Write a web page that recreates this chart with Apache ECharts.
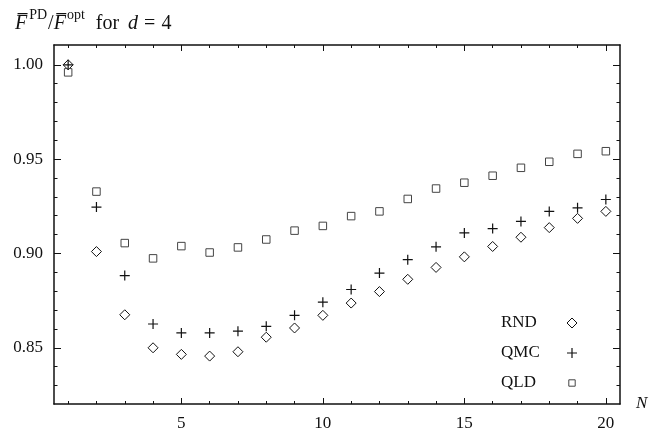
<!DOCTYPE html>
<html><head><meta charset="utf-8">
<script src="https://cdn.jsdelivr.net/npm/echarts@6/dist/echarts.min.js"></script>
<style>html,body{margin:0;padding:0;background:#fff}#c{width:664px;height:432px}</style>
</head><body><div id="c"></div>
<script>
const N = [1,2,3,4,5,6,7,8,9,10,11,12,13,14,15,16,17,18,19,20];
const rnd = [1.000,0.901,0.8675,0.850,0.8465,0.8456,0.8479,0.8556,0.8605,0.8672,0.8737,0.8798,0.8863,0.8926,0.8982,0.9037,0.9086,0.9137,0.9186,0.9223];
const qmc = [1.000,0.9246,0.8883,0.8626,0.8579,0.8579,0.8588,0.8614,0.8672,0.8742,0.8809,0.8896,0.8967,0.9035,0.9109,0.9132,0.9170,0.9223,0.9242,0.9286];
const qld = [0.996,0.9328,0.9055,0.8974,0.9039,0.9005,0.9032,0.9074,0.9121,0.9146,0.9198,0.9223,0.9289,0.9344,0.9375,0.9412,0.9454,0.9486,0.9528,0.9542];
const seriesNames = ['RND','QMC','QLD'];
const xMajorTicks = [5,10,15,20];
const xMinorTicks = [1,2,3,4,5,6,7,8,9,10,11,12,13,14,15,16,17,18,19,20];
const yMajorTicks = [0.85,0.90,0.95,1.00];
const yMinorTicks = [0.83,0.84,0.85,0.86,0.87,0.88,0.89,0.90,0.91,0.92,0.93,0.94,0.95,0.96,0.97,0.98,0.99,1.00];

const FONT = '"Liberation Serif", "DejaVu Serif", serif';
const XMIN = 0.5, XMAX = 20.5, YMIN = 0.8202, YMAX = 1.0105;
const lineCol = '#111';

function xAx(pos, ticks, len, showLine, showLabel, extra) {
  return Object.assign({
    type: 'value', position: pos, min: XMIN, max: XMAX, gridIndex: 0,
    axisLine: {show: showLine, onZero: false, lineStyle: {color: lineCol, width: 1.5}},
    axisTick: {show: true, inside: true, length: len, customValues: ticks, lineStyle: {color: lineCol, width: 1}},
    axisLabel: {show: showLabel, customValues: xMajorTicks, color: '#111', fontFamily: FONT, fontSize: 17, margin: 11},
    splitLine: {show: false}
  }, extra || {});
}
function yAx(pos, ticks, len, showLine, showLabel) {
  return {
    type: 'value', position: pos, min: YMIN, max: YMAX, gridIndex: 0,
    axisLine: {show: showLine, onZero: false, lineStyle: {color: lineCol, width: 1.5}},
    axisTick: {show: true, inside: true, length: len, customValues: ticks, lineStyle: {color: lineCol, width: 1}},
    axisLabel: {show: showLabel, customValues: yMajorTicks, color: '#111', fontFamily: FONT, fontSize: 17, margin: 11,
      formatter: v => v.toFixed(2)},
    splitLine: {show: false}
  };
}

const plusPath = 'path://M0,5L10,5M5,0L5,10';
const smallSquarePath = 'path://M0,0M10,10M1.8,1.8L8.2,1.8L8.2,8.2L1.8,8.2Z';
const styles = {
  RND: {symbol: 'diamond', legendIcon: 'diamond', size: [10, 10], border: '#111', bw: 1},
  QMC: {symbol: plusPath, legendIcon: plusPath, size: [10, 10], border: '#111', bw: 1.2},
  QLD: {symbol: 'rect', legendIcon: smallSquarePath, size: [7.5, 7.5], border: '#444', bw: 1}
};
const values = {RND: rnd, QMC: qmc, QLD: qld};

const chart = echarts.init(document.getElementById('c'), null, {renderer: 'canvas'});
const base = {fontFamily: FONT, color: '#111', lineHeight: 26, verticalAlign: 'bottom', fontWeight: 'normal'};
chart.setOption({
  animation: false,
  backgroundColor: '#fff',
  title: {
    left: 10, top: 3,
    text: '{f|F\u0305}{s|PD}{r|/}{f|F\u0305}{s2|opt}{sp| }{r|for}{sp| }{f|d}{eq|=}{r|4}',
    textStyle: {
      fontWeight: 'normal',
      rich: {
        f: Object.assign({}, base, {fontSize: 20, fontStyle: 'italic'}),
        r: Object.assign({}, base, {fontSize: 20}),
        eq: Object.assign({}, base, {fontSize: 20, padding: [0, 6, 0, 6]}),
        sp: Object.assign({}, base, {fontSize: 20, padding: [0, 2, 0, 2]}),
        s: {fontFamily: FONT, fontSize: 14, color: '#111', lineHeight: 14, verticalAlign: 'top', padding: [0, 1, 0, 2], fontWeight: 'normal'},
        s2: {fontFamily: FONT, fontSize: 14, color: '#111', lineHeight: 14, verticalAlign: 'top', padding: [0, 2, 0, 1], fontWeight: 'normal'}
      }
    }
  },
  grid: {left: 54, top: 45, right: 44, bottom: 25.3, containLabel: false},
  xAxis: [
    xAx('bottom', xMinorTicks, 3, true, true, {
      name: 'N', nameLocation: 'end', nameGap: 16,
      nameTextStyle: {fontFamily: FONT, fontSize: 17, fontStyle: 'italic', color: '#111', align: 'left', verticalAlign: 'middle', padding: [36, 0, 0, 0]}
    }),
    xAx('bottom', xMajorTicks, 6, false, false),
    xAx('top', xMinorTicks, 3, true, false),
    xAx('top', xMajorTicks, 6, false, false)
  ],
  yAxis: [
    yAx('left', yMinorTicks, 3.5, true, true),
    yAx('left', yMajorTicks, 7, false, false),
    yAx('right', yMinorTicks, 3.5, true, false),
    yAx('right', yMajorTicks, 7, false, false)
  ],
  legend: {
    orient: 'vertical', left: 496, top: 309, align: 'right',
    itemGap: 12, itemWidth: 10, itemHeight: 10,
    formatter: name => '{a|' + name + '}',
    textStyle: {fontFamily: FONT, fontSize: 17, color: '#111', lineHeight: 18,
      rich: {a: {fontFamily: FONT, fontSize: 17, color: '#111', width: 61, align: 'left', lineHeight: 18}}},
    data: seriesNames.map(n => ({
      name: n, icon: styles[n].legendIcon,
      itemStyle: {color: 'rgba(0,0,0,0)', borderColor: styles[n].border, borderWidth: styles[n].bw}
    }))
  },
  series: seriesNames.map(n => ({
    name: n, type: 'scatter', xAxisIndex: 0, yAxisIndex: 0,
    symbol: styles[n].symbol, symbolSize: styles[n].size,
    itemStyle: {color: 'rgba(0,0,0,0)', borderColor: styles[n].border, borderWidth: styles[n].bw, opacity: 1},
    emphasis: {disabled: true},
    data: N.map((x, i) => [x, values[n][i]])
  }))
});
</script></body></html>
